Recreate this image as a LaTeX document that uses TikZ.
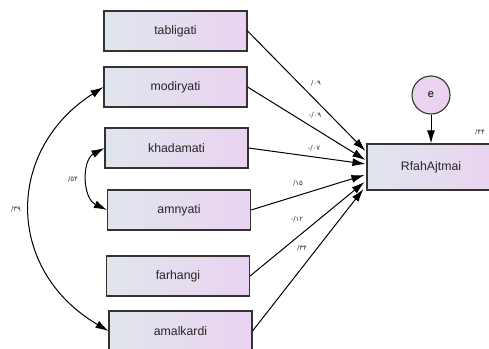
\documentclass[tikz,border=0pt]{standalone}
\usepackage{fontspec}
\setmainfont{Liberation Sans}
\newfontfamily\fadigits{DejaVu Sans}
\usetikzlibrary{arrows.meta,calc}
\definecolor{boxleft}{HTML}{E0E5EC}
\definecolor{boxright}{HTML}{EAD3F1}
\begin{document}
\begin{tikzpicture}[x=1pt,y=-1pt,
  var/.style={draw=black!80, line width=1.1pt, left color=boxleft, right color=boxright,
    minimum width=143pt, minimum height=40pt, inner sep=0pt, text=black!85,
    font=\fontsize{12.3}{14}\selectfont},
  regpath/.style={-{Latex[length=13pt,width=8pt]}, line width=1pt},
  covpath/.style={{Latex[length=13pt,width=8pt]}-{Latex[length=13pt,width=8pt]}, line width=1pt},
  coef/.style={font=\fadigits\fontsize{7}{8}\selectfont, text=black!80, inner sep=1pt}]
\clip (0,0) rectangle (489,348);
% observed variables
\node[var] (tab) at (175.5,31) {tabligati};
\node[var] (mod) at (175.5,87) {modiryati};
\node[var] (khad) at (176.5,148) {khadamati};
\node[var] (amn) at (179,210) {amnyati};
\node[var] (farh) at (178,276) {farhangi};
\node[var] (amal) at (180.5,331) {amalkardi};
% outcome and error
\node[var, minimum width=128pt, minimum height=46pt] (rfah) at (431,167) {RfahAjtmai};
\node[circle, draw=black!80, line width=1.1pt, fill=boxright, minimum size=38pt, inner sep=0pt,
  font=\fontsize{11}{12}\selectfont] (err) at (431,95) {e};
% regression paths
\draw[regpath] (tab.east) -- ($(rfah.west)+(-1,-16)$);
\draw[regpath] (mod.east) -- ($(rfah.west)+(-1,-7)$);
\draw[regpath] (khad.east) -- ($(rfah.west)+(-1,-3)$);
\draw[regpath] (amn.east) -- ($(rfah.west)+(-2,8)$);
\draw[regpath] (farh.east) -- ($(rfah.west)+(-2,15)$);
\draw[regpath] (amal.east) -- ($(rfah.west)+(-3,22)$);
\draw[regpath] (err.south) -- (rfah.north);
% covariances
\draw[covpath] (mod.west) .. controls (5,150) and (5,270) .. (amal.west);
\draw[covpath] (khad.west) .. controls (82,160) and (82,198) .. (amn.west);
% coefficients
\node[coef] (c1) at (316,83) {/۰۹};
\node[coef] (c2) at (315,115) {-/۰۹};
\node[coef] (c3) at (314,148) {-/۰۷};
\node[coef] (c4) at (298,183) {/۱۵};
\node[coef] (c5) at (297,219) {-/۱۲};
\node[coef] (c6) at (302,248) {/۳۴};
\node[coef] (r2) at (480,132) {/۴۴};
\node[coef] (k1) at (73,179) {/۵۴};
\node[coef] (k2) at (16,209) {/۳۹};
\end{tikzpicture}
\end{document}
